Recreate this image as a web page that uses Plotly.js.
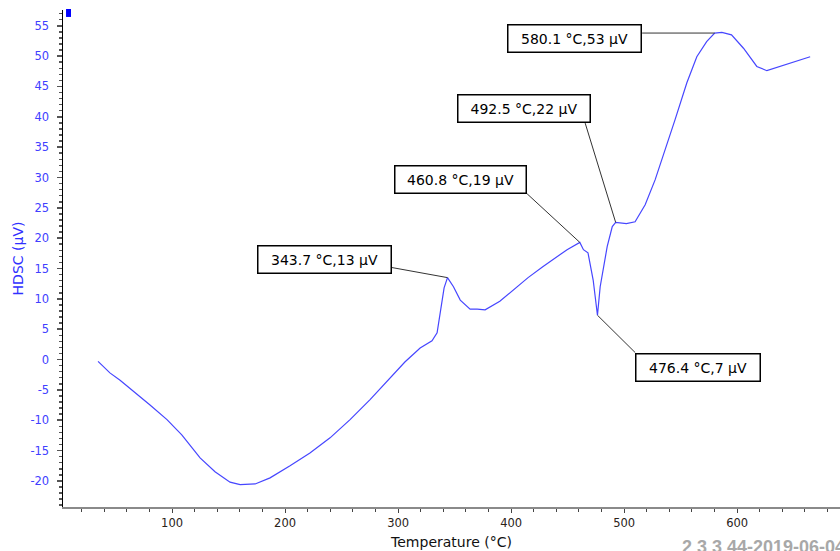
<!DOCTYPE html>
<html>
<head>
<meta charset="utf-8">
<script src="https://cdn.plot.ly/plotly-3.0.1.min.js"></script>
<style>html,body{margin:0;padding:0;background:#fff;}#chart{width:840px;height:551px;}</style>
</head>
<body>
<div id="chart"></div>
<script>
// Temperature (°C)
const temperature = [34.5, 45, 54, 70, 80.5, 95.5, 108.6, 124.8, 138, 151.3, 160.2, 173.5, 186.7, 204.4, 222, 239.8, 257.5, 275.2, 293, 306, 319.5, 330, 334.5, 338, 340.7, 343.7, 349, 355, 363.7, 370, 377, 390, 402, 415, 428, 440, 449.5, 460.8, 464, 468, 472.6, 476.4, 478.8, 485, 489.5, 492.5, 502, 509.7, 518.6, 527.4, 536.3, 545, 555.5, 564.3, 573, 580.1, 586.5, 595, 605.6, 617.4, 626.3, 638, 650, 664.6];
// HDSC (µV)
const hdsc = [-0.3, -2.2, -3.4, -5.8, -7.5, -9.9, -12.4, -16.2, -18.5, -20.2, -20.6, -20.5, -19.5, -17.5, -15.4, -12.9, -9.9, -6.6, -3.0, -0.4, 1.9, 3.1, 4.4, 9.0, 11.8, 13.5, 12.0, 9.8, 8.3, 8.3, 8.2, 9.6, 11.5, 13.5, 15.3, 16.8, 18.1, 19.3, 18.1, 17.6, 13.1, 7.3, 12.0, 18.6, 21.9, 22.6, 22.4, 22.7, 25.5, 29.6, 34.5, 39.5, 45.6, 49.9, 52.4, 53.8, 53.9, 53.5, 51.3, 48.3, 47.6, 48.3, 49.1, 49.9];

// Tick labels
const yTickVals = [-20, -15, -10, -5, 0, 5, 10, 15, 20, 25, 30, 35, 40, 45, 50, 55];
const yTickText = ['-20', '-15', '-10', '-5', '0', '5', '10', '15', '20', '25', '30', '35', '40', '45', '50', '55'];
const xTickVals = [100, 200, 300, 400, 500, 600];
const xTickText = ['100', '200', '300', '400', '500', '600'];

// Labelled points
const peakT = [343.7, 460.8, 492.5, 476.4, 580.1];
const peakV = [13.5, 19.3, 22.6, 7.3, 53.8];
const peakLabelV = [13, 19, 22, 7, 53];

// Leader line offsets (px) and box offsets (px) per label
const lineDX = [-55.7, -52.7, -30.5, 37.7, -72.5];
const lineDY = [10.1, 48.6, 99.3, -37.3, 0];
const boxDX = [-122.9, -119.2, -91.5, 100.7, -139.8];
const boxDY = [18.3, 63.1, 113.9, -51.8, -5.0];
const boxW = [132, 130, 131, 123, 132];

const shapes = peakT.map((t, i) => ({
  type: 'line', xref: 'x', yref: 'y',
  xsizemode: 'pixel', ysizemode: 'pixel',
  xanchor: t, yanchor: peakV[i],
  x0: 0, y0: 0, x1: lineDX[i], y1: lineDY[i],
  line: {color: '#333333', width: 1}
}));
shapes.push({
  type: 'rect', xref: 'paper', yref: 'paper',
  x0: 0.0039, x1: 0.0103, y0: 0.986, y1: 1.002,
  fillcolor: '#0000ff', line: {width: 0}
});

const annotations = peakT.map((t, i) => ({
  x: t, y: peakV[i], xref: 'x', yref: 'y',
  text: t.toFixed(1) + ' °C,' + peakLabelV[i] + ' µV',
  showarrow: false, xshift: boxDX[i], yshift: boxDY[i],
  bgcolor: '#ffffff', bordercolor: '#000000', borderwidth: 1.5, borderpad: 0,
  width: boxW[i], height: 26,
  font: {family: 'DejaVu Sans', size: 14, color: '#000000'}
}));
annotations.push({
  xref: 'paper', yref: 'paper', x: 0.794, y: -0.056,
  xanchor: 'left', yanchor: 'top', showarrow: false,
  text: '<b>2 3 3 44-2019-06-04</b>',
  font: {family: 'Liberation Sans', size: 18, color: '#a8a8a8'}
});

const trace = {
  x: temperature, y: hdsc, type: 'scatter', mode: 'lines',
  line: {color: '#4646ff', width: 1.2}, hoverinfo: 'skip'
};

const layout = {
  width: 840, height: 551,
  margin: {l: 63, r: 0, t: 10, b: 44},
  paper_bgcolor: '#ffffff', plot_bgcolor: '#ffffff',
  showlegend: false,
  xaxis: {
    range: [3.5, 691], tickmode: 'array', tickvals: xTickVals, ticktext: xTickText,
    showgrid: false, zeroline: false,
    showline: true, linecolor: '#8a8a8a', linewidth: 2,
    ticks: 'outside', ticklen: 4, tickcolor: '#444', tickwidth: 1,
    minor: {dtick: 20, tick0: 0, ticks: 'outside', ticklen: 3, tickcolor: '#444', showgrid: false},
    tickfont: {family: 'DejaVu Sans', size: 11.5, color: '#2a2218'},
    title: {text: 'Temperature (°C)', font: {family: 'DejaVu Sans', size: 14, color: '#111'}, standoff: 8},
    fixedrange: true
  },
  yaxis: {
    range: [-24.3, 57.6], tickmode: 'array', tickvals: yTickVals, ticktext: yTickText,
    showgrid: false, zeroline: false,
    showline: true, linecolor: '#000000', linewidth: 1.5,
    ticks: 'outside', ticklen: 5, tickcolor: '#555', tickwidth: 1.5,
    minor: {dtick: 1, tick0: 0, ticks: 'outside', ticklen: 3, tickcolor: '#555', showgrid: false},
    ticklabelstandoff: 5,
    tickfont: {family: 'DejaVu Sans', size: 11.5, color: '#4040ff'},
    title: {text: 'HDSC (µV)', font: {family: 'DejaVu Sans', size: 14, color: '#3030ff'}, standoff: 3},
    fixedrange: true
  },
  shapes: shapes,
  annotations: annotations
};

Plotly.newPlot('chart', [trace], layout, {displayModeBar: false, staticPlot: true});
</script>
</body>
</html>
